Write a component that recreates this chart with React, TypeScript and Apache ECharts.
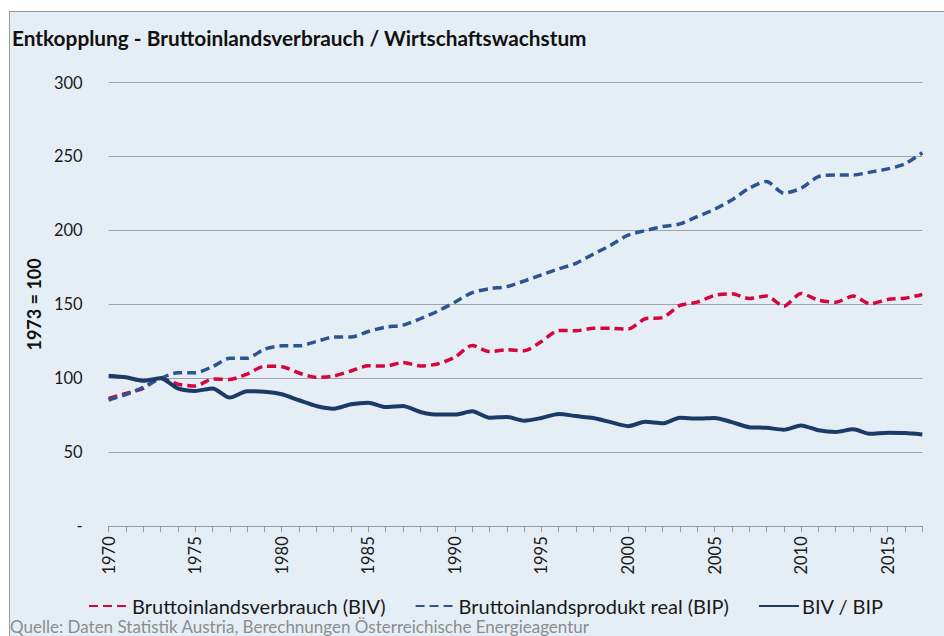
import React, { useEffect, useRef } from "react";
import * as echarts from "echarts";

const years: string[] = [];
for (let y = 1970; y <= 2017; y++) years.push(String(y));

const biv = [
  86.4, 89.8, 93.2, 100, 96.1, 94.8, 99.5, 99.3, 102.9, 108.2,
  107.9, 103.6, 100.7, 101.6, 105, 108.5, 108.3, 110.8, 108.4, 109.7,
  114.3, 122.2, 118.1, 119.3, 118.6, 124.9, 132.4, 132.2, 133.8, 133.8,
  133.3, 140.3, 141.1, 149.3, 151.5, 156.1, 157.2, 154, 155.6, 148.8,
  157.4, 152.9, 151.5, 155.6, 150.4, 153.3, 154.2, 156.7,
];

const bip = [
  85.4, 89, 94, 100, 103.8, 103.8, 107.9, 113.6, 113.6, 119.7,
  122, 122, 124.9, 127.9, 127.9, 131.7, 134.6, 136, 140.3, 145.4,
  151.5, 157.9, 160.6, 162, 165.8, 170, 174, 177.8, 184, 190,
  196.8, 199.9, 202.6, 204.4, 209.3, 214.3, 220.6, 228.5, 233, 225.2,
  228.5, 236.4, 237.5, 237.5, 239.4, 241.6, 245, 252.5,
];

const ratio = [
  101.8, 100.7, 98.4, 100, 93.2, 91.5, 93.2, 87, 91.3, 91,
  89.3, 85.2, 81.3, 79.5, 82.5, 83.6, 80.6, 81.3, 77.3, 75.5,
  75.5, 77.7, 73.4, 73.9, 71.4, 73.2, 75.9, 74.5, 73.2, 70.4,
  67.7, 70.6, 69.6, 73.3, 72.8, 73.2, 70.4, 67, 66.6, 65.3,
  68.2, 64.9, 63.7, 65.6, 62.5, 63.2, 63, 62.1,
];

const seriesNames = [
  "Bruttoinlandsverbrauch (BIV)",
  "Bruttoinlandsprodukt real (BIP)",
  "BIV / BIP",
];

const titleText = "Entkopplung - Bruttoinlandsverbrauch / Wirtschaftswachstum";
const sourceText = "Quelle: Daten Statistik Austria, Berechnungen Österreichische Energieagentur";
const yAxisName = "1973 = 100";

const RED = "#d5063e";
const BLUE = "#2b5591";
const NAVY = "#1b3a66";
const FONT = "Lato, sans-serif";

export default function App() {
  const ref = useRef<HTMLDivElement>(null);

  useEffect(() => {
    if (!ref.current) return;
    const chart = echarts.init(ref.current, undefined, { renderer: "svg" });
    chart.setOption({
      animation: false,
      title: {
        text: titleText,
        left: 7,
        top: 22,
        textStyle: {
          fontFamily: FONT,
          fontWeight: "bold",
          fontSize: 20.8,
          color: "#111",
        },
      },
      graphic: [
        {
          type: "text",
          left: 10,
          top: 618,
          style: {
            text: sourceText,
            font: `17px ${FONT}`,
            fill: "#8c8c8c",
          },
        },
      ],
      legend: {
        left: 83,
        top: 591,
        itemWidth: 40,
        itemHeight: 14,
        itemGap: 29,
        itemStyle: { opacity: 0 },
        textStyle: {
          fontFamily: FONT,
          fontSize: 20,
          color: "#1a1a1a",
          padding: [0, 0, 0, -2],
        },
        data: seriesNames,
      },
      grid: {
        left: 108.6,
        right: 21.7,
        top: 82.5,
        bottom: 109.7,
        containLabel: false,
      },
      xAxis: {
        type: "category",
        data: years,
        boundaryGap: false,
        axisLine: { show: true, lineStyle: { color: "#9a9a9a", width: 1 } },
        axisTick: {
          show: true,
          interval: 0,
          length: 6,
          lineStyle: { color: "#9a9a9a" },
        },
        axisLabel: {
          interval: 4,
          rotate: 90,
          margin: 10,
          fontFamily: FONT,
          fontSize: 16.5,
          color: "#1a1a1a",
        },
        splitLine: { show: false },
      },
      yAxis: {
        type: "value",
        min: 0,
        max: 300,
        interval: 50,
        name: yAxisName,
        nameLocation: "middle",
        nameGap: 65,
        nameRotate: 90,
        nameTextStyle: {
          fontFamily: FONT,
          fontWeight: "bold",
          fontSize: 18,
          color: "#111",
        },
        axisLine: { show: false },
        axisTick: { show: false },
        axisLabel: {
          margin: 26,
          fontFamily: FONT,
          fontSize: 16.5,
          color: "#1a1a1a",
          formatter: (v: number) => (v === 0 ? "-" : String(v)),
        },
        splitLine: {
          show: true,
          lineStyle: { color: "#a3a3a3", width: 1 },
        },
      },
      series: [
        {
          name: seriesNames[0],
          type: "line",
          data: biv,
          symbol: "none",
          smooth: 0.25,
          z: 3,
          lineStyle: { color: RED, width: 3.5, type: [9, 5] },
          itemStyle: { color: RED },
        },
        {
          name: seriesNames[1],
          type: "line",
          data: bip,
          symbol: "none",
          smooth: 0.25,
          z: 3,
          lineStyle: { color: BLUE, width: 3.5, type: [9, 5] },
          itemStyle: { color: BLUE },
        },
        {
          name: seriesNames[2],
          type: "line",
          data: ratio,
          symbol: "none",
          smooth: 0.25,
          z: 4,
          lineStyle: { color: NAVY, width: 4 },
          itemStyle: { color: NAVY },
        },
      ],
    });
    return () => chart.dispose();
  }, []);

  return (
    <div
      style={{
        position: "fixed",
        left: 0,
        top: 0,
        width: 944,
        height: 636,
        background: "#ffffff",
        overflow: "hidden",
      }}
    >
      <div
        style={{
          position: "absolute",
          left: 9,
          top: 11,
          width: 960,
          height: 660,
          background: "#e6eef5",
          borderLeft: "1px solid #9a9a9a",
          borderTop: "1px solid #9a9a9a",
        }}
      />
      <div
        ref={ref}
        style={{ position: "absolute", left: 0, top: 0, width: 944, height: 636 }}
      />
    </div>
  );
}
